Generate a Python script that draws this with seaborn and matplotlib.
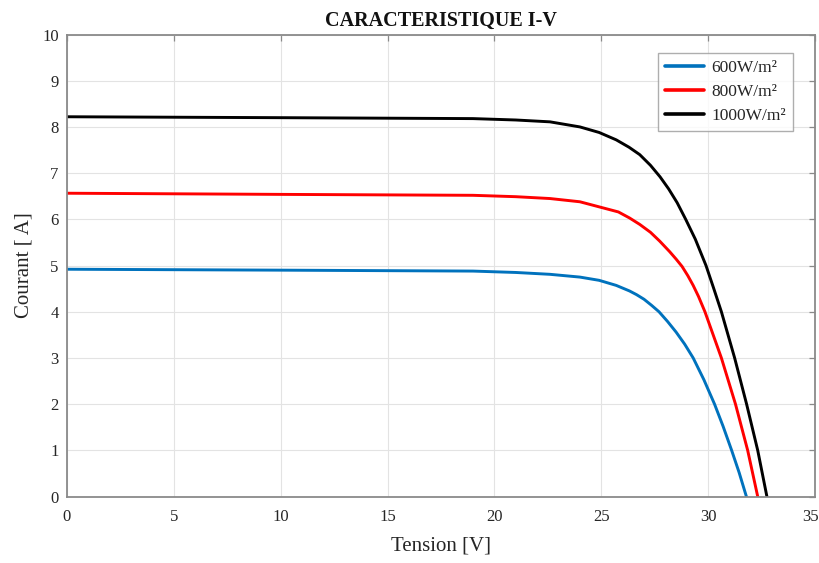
import matplotlib
matplotlib.use("Agg")
import matplotlib.pyplot as plt
import matplotlib.transforms as mtransforms
import seaborn as sns
import pandas as pd

# I-V characteristic of a PV module at three irradiance levels
v_600 = [0, 10, 19, 21, 22.6, 24.0, 24.9, 25.7, 26.32, 26.65, 27.0, 27.35, 27.7, 28.1,
         28.5, 28.9, 29.3, 29.8, 30.3, 30.7, 31.1, 31.45, 31.79]
i_600 = [4.92, 4.90, 4.88, 4.85, 4.81, 4.75, 4.68, 4.57, 4.45, 4.37, 4.27, 4.14, 4.00, 3.79,
         3.56, 3.30, 3.00, 2.53, 2.00, 1.52, 1.00, 0.52, 0.0]

v_800 = [0, 10, 19, 21, 22.6, 24.0, 24.9, 25.8, 26.32, 26.8, 27.3, 27.73, 28.2,
         28.5, 28.78, 29.05, 29.3, 29.55, 29.85, 30.62, 31.28, 31.85, 32.32]
i_800 = [6.565, 6.54, 6.52, 6.49, 6.45, 6.38, 6.27, 6.16, 6.03, 5.89, 5.72, 5.53, 5.30,
         5.14, 4.98, 4.78, 4.57, 4.33, 4.00, 3.00, 2.00, 1.00, 0.0]

v_1000 = [0, 10, 19, 21, 22.6, 24.0, 24.9, 25.7, 26.3, 26.8, 27.3, 27.75, 28.15,
          28.55, 28.95, 29.4, 29.9, 30.25, 30.62, 31.24, 31.8, 32.32, 32.75]
i_1000 = [8.22, 8.20, 8.18, 8.15, 8.11, 8.00, 7.88, 7.72, 7.56, 7.40, 7.17, 6.92, 6.66,
          6.36, 6.00, 5.57, 5.00, 4.52, 4.00, 3.00, 2.00, 1.00, 0.0]

labels = ["600W/m²", "800W/m²", "1000W/m²"]
colors = ["#0072BD", "#FF0000", "#000000"]

x_ticks = list(range(0, 36, 5))
y_ticks = list(range(0, 11, 1))

frames = []
for lab, v, i in zip(labels, [v_600, v_800, v_1000], [i_600, i_800, i_1000]):
    frames.append(pd.DataFrame({"Tension": v, "Courant": i, "Irradiance": lab}))
df = pd.concat(frames, ignore_index=True)

sns.set_theme(style="white")
plt.rcParams["font.family"] = ["Liberation Serif", "DejaVu Serif"]

fig = plt.figure(figsize=(8.2, 5.63), dpi=100)
ax = fig.add_axes([0.0817, 0.118, 0.9122, 0.8207])

sns.lineplot(data=df, x="Tension", y="Courant", hue="Irradiance",
             palette=dict(zip(labels, colors)), hue_order=labels,
             sort=False, estimator=None, linewidth=2.1, ax=ax)

ax.set_xlim(0, 35)
ax.set_ylim(0, 10)
ax.set_xticks(x_ticks)
ax.set_yticks(y_ticks)

ax.grid(True, color="#e3e3e3", linewidth=0.8)
ax.set_axisbelow(True)
for s in ax.spines.values():
    s.set_visible(True)
    s.set_color("#8a8a8a")
    s.set_linewidth(1.3)

ax.tick_params(axis="both", which="both", direction="in", length=4,
               width=0.9, color="#8a8a8a", top=True, right=True,
               labelsize=12, labelcolor="#262626")
ax.tick_params(axis="x", pad=9)
ax.tick_params(axis="y", pad=6)

# keep the last x tick label inside the figure
last = ax.get_xticklabels()[-1]
last.set_transform(last.get_transform() +
                   mtransforms.ScaledTranslation(-4 / 100, 0, fig.dpi_scale_trans))

ax.set_xlabel("Tension [V]", fontsize=15, color="#262626", labelpad=8)
ax.set_ylabel("Courant [ A]", fontsize=15, color="#262626", labelpad=6)
ax.set_title("CARACTERISTIQUE I-V", fontsize=14.5, fontweight="bold",
             color="#111111", pad=6)

leg = ax.legend(loc="upper right", bbox_to_anchor=(0.9706, 0.96),
                fontsize=12.5, frameon=True, fancybox=False,
                handlelength=2.3, handletextpad=0.4, borderpad=0.4,
                labelspacing=0.45, borderaxespad=0, handleheight=0.7)
leg.get_frame().set_edgecolor("#9a9a9a")
leg.get_frame().set_linewidth(1.0)
for line in leg.get_lines():
    line.set_linewidth(2.6)
for t in leg.get_texts():
    t.set_color("#262626")

fig.savefig("out.png", dpi=100)
